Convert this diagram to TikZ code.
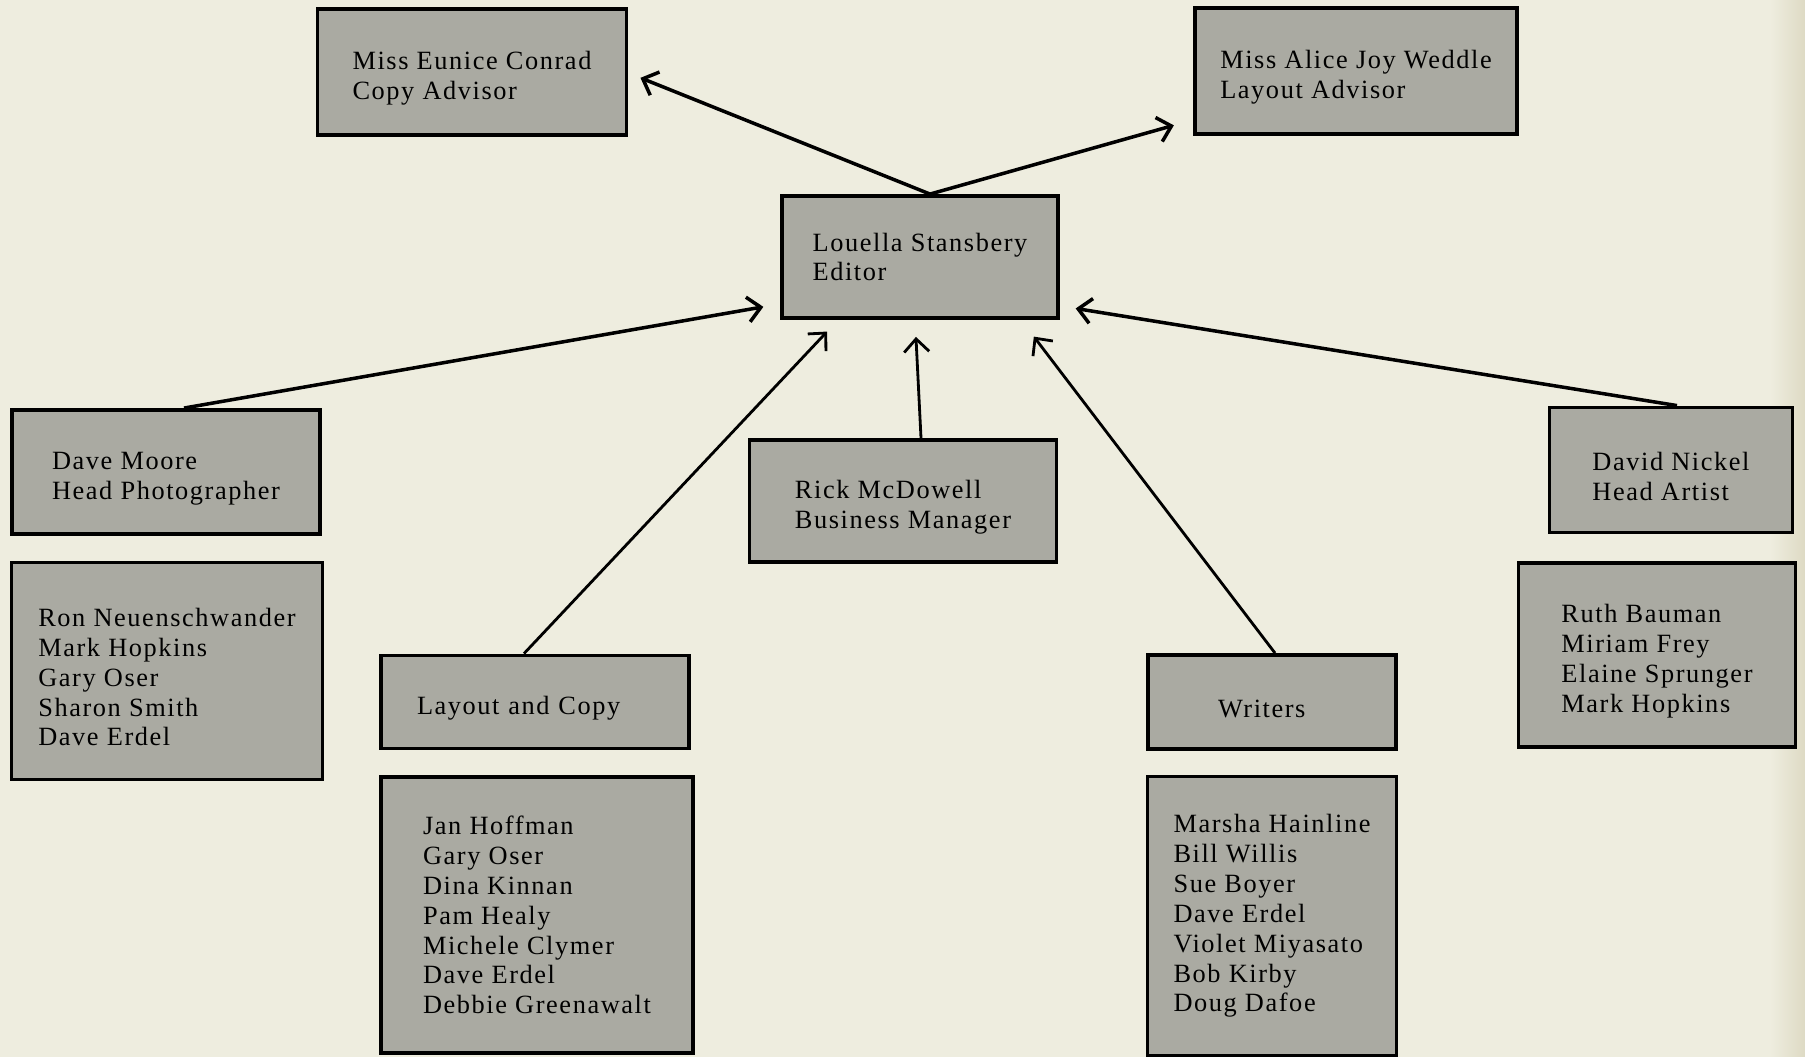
\documentclass[tikz,border=0pt]{standalone}
\usepackage{fontspec}
\setmainfont{Liberation Serif}[LetterSpace=6.0]
\usetikzlibrary{calc,arrows.meta}
\definecolor{paper}{RGB}{238,237,223}
\definecolor{paperedge}{RGB}{222,218,196}
\definecolor{boxgrey}{RGB}{170,170,162}
\newcommand{\lift}{\rule{0pt}{17.5pt}}

\begin{document}
\begin{tikzpicture}[x=0.02cm,y=-0.02cm]

\tikzset{orgbox/.style={draw=black,line width=2.2pt,fill=boxgrey,align=left,inner sep=0pt,font=\fontsize{15pt}{17pt}\selectfont},
link/.style={line width=2pt,-{Straight Barb[length=2.6mm,width=5mm]},shorten >=0.32cm}}

% Paper
\fill[paper] (0,0) rectangle (1805,1057);
\shade[left color=paper,right color=paperedge] (1770,0) rectangle (1805,1057);
\useasboundingbox (0,0) rectangle (1805,1057);

% Advisors and editor
\node[orgbox,minimum width=6.18cm,minimum height=2.52cm] (conrad) at (472,72) {\lift Miss Eunice Conrad\\Copy Advisor};
\node[orgbox,minimum width=6.44cm,minimum height=2.52cm] (weddle) at (1356,71) {\lift Miss Alice Joy Weddle\\Layout Advisor};
\node[orgbox,minimum width=5.52cm,minimum height=2.44cm] (editor) at (920,257) {Louella Stansbery\\Editor};

% Heads
\node[orgbox,minimum width=6.16cm,minimum height=2.48cm] (moore) at (166,472) {\lift Dave Moore\\Head Photographer};
\node[orgbox,minimum width=6.14cm,minimum height=2.44cm] (rick) at (903,501) {\lift Rick McDowell\\Business Manager};
\node[orgbox,minimum width=4.86cm,minimum height=2.50cm] (nickel) at (1671,470) {\lift David Nickel\\Head Artist};
\node[orgbox,minimum width=6.16cm,minimum height=1.86cm,text width=4.72cm] (layout) at (535,702) {\lift Layout and Copy};
\node[orgbox,minimum width=4.96cm,minimum height=1.88cm,text width=2.16cm] (writers) at (1272,702) {\lift Writers};

% Staff lists
\node[orgbox,minimum width=6.22cm,minimum height=4.34cm] (photostaff) at (167,671) {\lift Ron Neuenschwander\\Mark Hopkins\\Gary Oser\\Sharon Smith\\Dave Erdel};
\node[orgbox,minimum width=6.24cm,minimum height=5.52cm] (layoutstaff) at (537,915) {Jan Hoffman\\Gary Oser\\Dina Kinnan\\Pam Healy\\Michele Clymer\\Dave Erdel\\Debbie Greenawalt};
\node[orgbox,minimum width=4.98cm,minimum height=5.58cm] (writerstaff) at (1272,916) {Marsha Hainline\\Bill Willis\\Sue Boyer\\Dave Erdel\\Violet Miyasato\\Bob Kirby\\Doug Dafoe};
\node[orgbox,minimum width=5.54cm,minimum height=3.68cm] (artstaff) at (1657,655) {\lift Ruth Bauman\\Miriam Frey\\Elaine Sprunger\\Mark Hopkins};

% Arrows
\draw[link,shorten >=0.26cm] ($(editor.north)+(10,0)$) -- ($(conrad.east)+(0,1)$);
\draw[link,shorten >=0.4cm] ($(editor.north)+(10,0)$) -- ($(weddle.south west)+(0,-16)$);
\draw[link,shorten >=0.34cm] ($(moore.north)+(18,0)$) -- ($(editor.south west)+(0,-16)$);
\draw[link,line width=1.6pt] ($(layout.north)+(-11,0)$) -- ($(editor.south west)+(58,0)$);
\draw[link,line width=1.6pt,shorten >=0.34cm] ($(rick.north)+(18,0)$) -- ($(editor.south west)+(135,0)$);
\draw[link,line width=1.6pt,shorten >=0.42cm] ($(writers.north)+(3,0)$) -- ($(editor.south west)+(241,0)$);
\draw[link] ($(nickel.north)+(6,0)$) -- ($(editor.south east)+(0,-14)$);

\end{tikzpicture}
\end{document}
